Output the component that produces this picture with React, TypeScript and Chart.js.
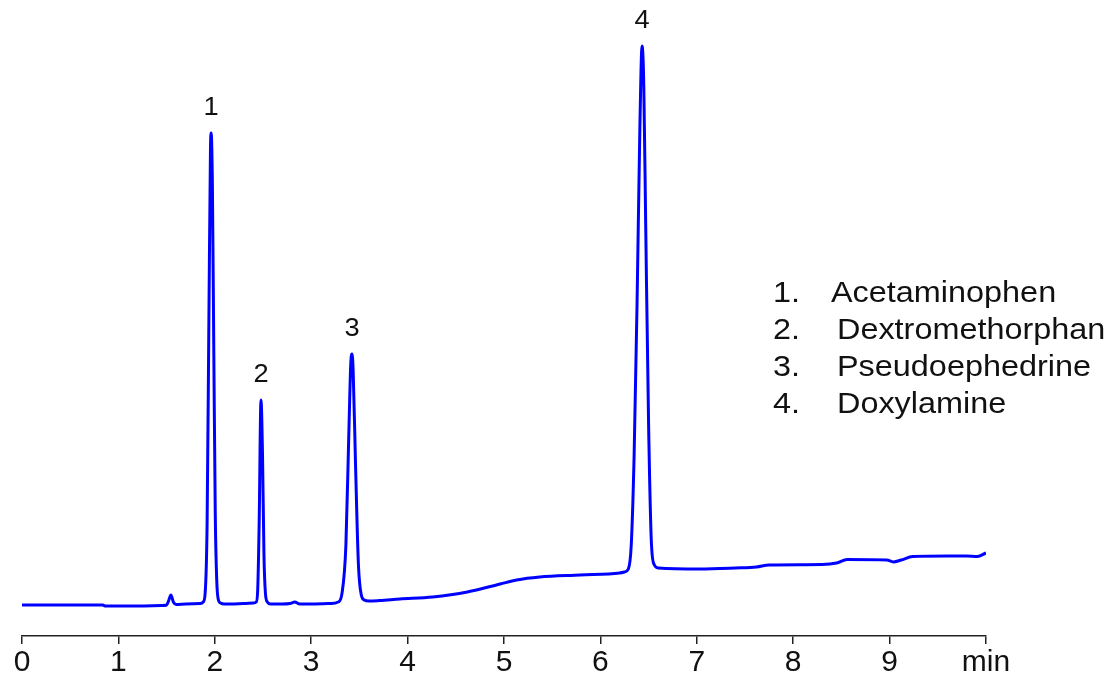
import React, { useEffect, useRef } from "react";
import { Chart, registerables } from "chart.js";

Chart.register(...registerables);

// Retention time (min) and detector signal (arbitrary units)
const times = [
  0.0, 0.4, 0.84, 0.86, 1.2, 1.45, 1.5, 1.52, 1.545, 1.57, 1.6, 1.7, 1.85,
  1.88, 1.9, 1.92, 1.94, 1.955, 1.962, 1.975, 1.99, 2.005, 2.02, 2.035, 2.06, 2.1, 2.3, 2.4,
  2.43, 2.445, 2.46, 2.479, 2.495, 2.51, 2.525, 2.545, 2.58, 2.7, 2.78, 2.83, 2.88, 3.0, 3.2, 3.28,
  3.32, 3.36, 3.39, 3.41, 3.423, 3.435, 3.46, 3.49, 3.52, 3.55, 3.6, 3.71, 3.92, 4.26, 4.62,
  4.96, 5.13, 5.37, 5.79, 6.2, 6.25,
  6.29, 6.32, 6.35, 6.38, 6.41, 6.432, 6.45, 6.47, 6.5, 6.53, 6.56, 6.6,
  7.03, 7.4, 7.62, 7.75, 8.3, 8.45, 8.56, 8.97, 9.04, 9.12, 9.24, 9.6, 9.8, 9.91, 10.0,
];
const signal = [
  0, 0, 0, -1, -1, -0.5, 0, 4, 10, 3, 0.5, 1, 1.5,
  3, 12, 80, 300, 455, 472, 420, 250, 90, 25, 6, 2, 1, 1.5, 2,
  3, 15, 80, 205, 150, 50, 12, 3, 1, 1, 1.5, 3, 1, 1, 1.5, 3,
  12, 60, 170, 240, 251, 235, 140, 40, 10, 5, 4, 4.5, 6, 8, 13,
  21, 25, 28, 30, 32, 33,
  36, 60, 150, 300, 480, 559, 520, 380, 180, 60, 40, 37,
  36, 37, 38, 40, 40.5, 42, 45.5, 45, 43, 45, 48.5, 49, 49, 48.5, 52,
];

const peakTimes = [1.962, 2.479, 3.423, 6.432];
const peakLabels = ["1", "2", "3", "4"];

const legendNumbers = ["1.", "2.", "3.", "4."];
const compounds = ["Acetaminophen", "Dextromethorphan", "Pseudoephedrine", "Doxylamine"];

const xTicks = [0, 1, 2, 3, 4, 5, 6, 7, 8, 9, 10];
const xTickLabels = ["0", "1", "2", "3", "4", "5", "6", "7", "8", "9", "min"];

const FONT = "'Liberation Sans', Arial, sans-serif";

const annotations = {
  id: "annotations",
  afterDatasetsDraw(chart: any) {
    const ctx = chart.ctx;
    const xs = chart.scales.x;
    const ys = chart.scales.y;
    ctx.save();
    ctx.fillStyle = "#111";
    ctx.textAlign = "center";
    ctx.textBaseline = "middle";
    // peak numbers
    peakTimes.forEach((t, i) => {
      const idx = times.indexOf(t);
      const v = signal[idx];
      const px = xs.getPixelForValue(t);
      const py = ys.getPixelForValue(v);
      ctx.save();
      ctx.translate(px, py - 25);
      ctx.scale(1.09, 1);
      ctx.font = `25px ${FONT}`;
      ctx.fillText(peakLabels[i], 0, 0);
      ctx.restore();
    });
    // compound list
    ctx.textAlign = "left";
    const rowY = [294, 331, 368, 405];
    const nameX = [831, 837, 837, 837];
    compounds.forEach((name, i) => {
      ctx.save();
      ctx.translate(773, rowY[i]);
      ctx.scale(1.08, 1);
      ctx.font = `30px ${FONT}`;
      ctx.fillText(legendNumbers[i], 0, 0);
      ctx.restore();
      ctx.save();
      ctx.translate(nameX[i], rowY[i]);
      ctx.scale(1.08, 1);
      ctx.font = `30px ${FONT}`;
      ctx.fillText(name, 0, 0);
      ctx.restore();
    });
    ctx.restore();
  },
};

export default function App() {
  const ref = useRef<HTMLCanvasElement | null>(null);

  useEffect(() => {
    if (!ref.current) return;
    const chart = new Chart(ref.current, {
      type: "line",
      data: {
        datasets: [
          {
            data: times.map((t, i) => ({ x: t, y: signal[i] })),
            borderColor: "#0000FF",
            borderWidth: 3,
            pointRadius: 0,
            fill: false,
            cubicInterpolationMode: "monotone",
          },
        ],
      },
      options: {
        responsive: false,
        animation: false,
        devicePixelRatio: 1,
        layout: { padding: { left: 22, right: 121, top: 5, bottom: 0 } },
        plugins: {
          legend: { display: false },
          tooltip: { enabled: false },
        },
        scales: {
          x: {
            type: "linear",
            min: 0,
            max: 10,
            afterBuildTicks: (scale: any) => {
              scale.ticks = xTicks.map((v) => ({ value: v }));
            },
            afterFit: (scale: any) => {
              scale.height = 43;
            },
            ticks: {
              autoSkip: false,
              maxRotation: 0,
              padding: 4,
              color: "#111",
              font: { family: FONT, size: 30, lineHeight: 1 },
              callback: (value: any) => {
                const i = xTicks.indexOf(Number(value));
                return i >= 0 ? xTickLabels[i] : "";
              },
            },
            grid: {
              drawOnChartArea: false,
              drawTicks: true,
              tickLength: 8,
              color: "#222",
              lineWidth: 1.5,
            },
            border: { display: true, color: "#222", width: 1.5 },
          },
          y: {
            display: false,
            min: -31,
            max: 600,
          },
        },
      },
      plugins: [annotations],
    });
    return () => chart.destroy();
  }, []);

  return (
    <div style={{ position: "fixed", left: 0, top: 0, width: 1107, height: 679, background: "#fff" }}>
      <canvas ref={ref} width={1107} height={679} />
    </div>
  );
}
